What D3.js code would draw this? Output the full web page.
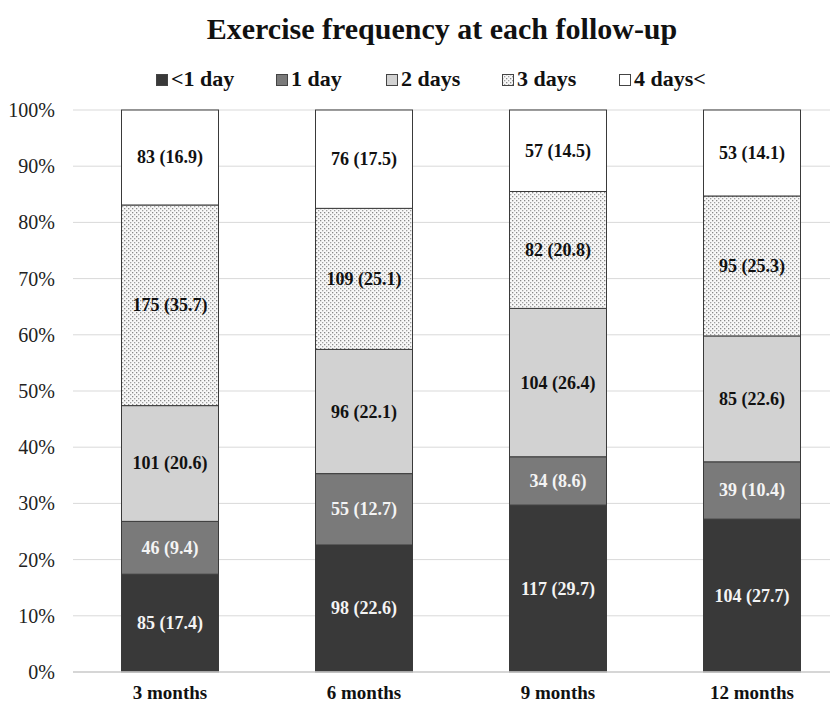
<!DOCTYPE html>
<html>
<head>
<meta charset="utf-8">
<script src="https://cdn.jsdelivr.net/npm/d3@7"></script>
<style>
  body { margin: 0; background: #fff; }
  svg text { font-family: "Liberation Serif", "Times New Roman", serif; }
</style>
</head>
<body>
<div id="chart"></div>
<script>
// data
let followUps = ["3 months", "6 months", "9 months", "12 months"]
let groups = ["<1 day", "1 day", "2 days", "3 days", "4 days<"]
let counts = [
    [85, 46, 101, 175, 83],
    [98, 55, 96, 109, 76],
    [117, 34, 104, 82, 57],
    [104, 39, 85, 95, 53]
]
let percents = [
    [17.4, 9.4, 20.6, 35.7, 16.9],
    [22.6, 12.7, 22.1, 25.1, 17.5],
    [29.7, 8.6, 26.4, 20.8, 14.5],
    [27.7, 10.4, 22.6, 25.3, 14.1]
]
// segment heights as drawn in the picture (12 months is drawn slightly off its labels)
let barShares = [
    [17.4, 9.4, 20.6, 35.7, 16.9],
    [22.6, 12.7, 22.1, 25.1, 17.5],
    [29.7, 8.6, 26.4, 20.8, 14.5],
    [27.2, 10.2, 22.4, 24.9, 15.3]
]
let yTicks = [0, 10, 20, 30, 40, 50, 60, 70, 80, 90, 100]

let W = 830, H = 706
let svg = d3.select('#chart').append('svg')
    .attr('width', W)
    .attr('height', H)

// dotted fill for "3 days"
let pat = svg.append('defs').append('pattern')
    .attr('id', 'dots')
    .attr('patternUnits', 'userSpaceOnUse')
    .attr('width', 4).attr('height', 4)
pat.append('rect').attr('width', 4).attr('height', 4).attr('fill', '#f8f8f8')
pat.append('rect').attr('x', 0).attr('y', 0).attr('width', 1.3).attr('height', 1.3).attr('fill', '#888')
pat.append('rect').attr('x', 2).attr('y', 2).attr('width', 1.3).attr('height', 1.3).attr('fill', '#a0a0a0')

let fills = ['#393939', '#7a7a7a', '#d2d2d2', 'url(#dots)', '#ffffff']
let textCol = ['#f4f4f4', '#f4f4f4', '#111', '#111', '#111']

let x = d3.scaleBand().domain(followUps).range([73, 849]).paddingInner(0.5).paddingOuter(0.25)
let y = d3.scaleLinear().domain([0, 100]).range([672, 110])

// title
svg.append('text')
    .attr('x', 442).attr('y', 39)
    .attr('text-anchor', 'middle')
    .attr('font-size', 30).attr('font-weight', 'bold')
    .attr('fill', '#111')
    .text('Exercise frequency at each follow-up')

// legend
let legX = [156, 276, 386, 502, 619]
let leg = svg.append('g').selectAll('g')
    .data(groups)
    .enter().append('g')
    .attr('transform', (d, i) => `translate(${legX[i]}, 86)`)
leg.append('rect')
    .attr('x', 0.5).attr('y', -11.5).attr('width', 11).attr('height', 11)
    .attr('fill', (d, i) => fills[i])
    .attr('stroke', '#444').attr('stroke-width', 1)
leg.append('text')
    .attr('x', 15).attr('y', 0)
    .attr('font-size', 22).attr('font-weight', 'bold')
    .attr('fill', '#111')
    .text(d => d)

// gridlines
svg.append('g').selectAll('line')
    .data(yTicks)
    .enter().append('line')
    .attr('x1', 73).attr('x2', W)
    .attr('y1', d => y(d)).attr('y2', d => y(d))
    .attr('stroke', '#d9d9d9').attr('stroke-width', 1)

// y axis labels
svg.append('g').selectAll('text')
    .data(yTicks)
    .enter().append('text')
    .attr('x', 55).attr('y', d => y(d) + 7)
    .attr('text-anchor', 'end')
    .attr('font-size', 20).attr('fill', '#222')
    .text(d => d + '%')

// stacked bars
let rows = followUps.map((f, i) => {
    let r = { month: f }
    groups.forEach((g, j) => { r[g] = barShares[i][j] })
    return r
})
let series = d3.stack().keys(groups)(rows)
let capTop = v => Math.min(v, 100)

let layer = svg.append('g').selectAll('g')
    .data(series)
    .enter().append('g')

layer.selectAll('rect')
    .data((s, j) => s.map((d, i) => ({ d, i, j })))
    .enter().append('rect')
    .attr('x', o => x(followUps[o.i]))
    .attr('width', x.bandwidth())
    .attr('y', o => y(capTop(o.d[1])))
    .attr('height', o => y(o.d[0]) - y(capTop(o.d[1])))
    .attr('fill', o => fills[o.j])
    .attr('stroke', '#3a3a3a').attr('stroke-width', 1)

layer.selectAll('text')
    .data((s, j) => s.map((d, i) => ({ d, i, j })))
    .enter().append('text')
    .attr('x', o => x(followUps[o.i]) + x.bandwidth() / 2)
    .attr('y', o => y((o.d[0] + capTop(o.d[1])) / 2) + 6)
    .attr('text-anchor', 'middle')
    .attr('font-size', 18).attr('font-weight', 'bold')
    .attr('fill', o => textCol[o.j])
    .text(o => `${counts[o.i][o.j]} (${percents[o.i][o.j]})`)

// baseline
svg.append('line')
    .attr('x1', 73).attr('x2', W)
    .attr('y1', y(0)).attr('y2', y(0))
    .attr('stroke', '#cfcfcf').attr('stroke-width', 1.5)

// x labels
svg.append('g').selectAll('text')
    .data(followUps)
    .enter().append('text')
    .attr('x', d => x(d) + x.bandwidth() / 2)
    .attr('y', 699)
    .attr('text-anchor', 'middle')
    .attr('font-size', 19).attr('font-weight', 'bold')
    .attr('fill', '#111')
    .text(d => d)
</script>
</body>
</html>
